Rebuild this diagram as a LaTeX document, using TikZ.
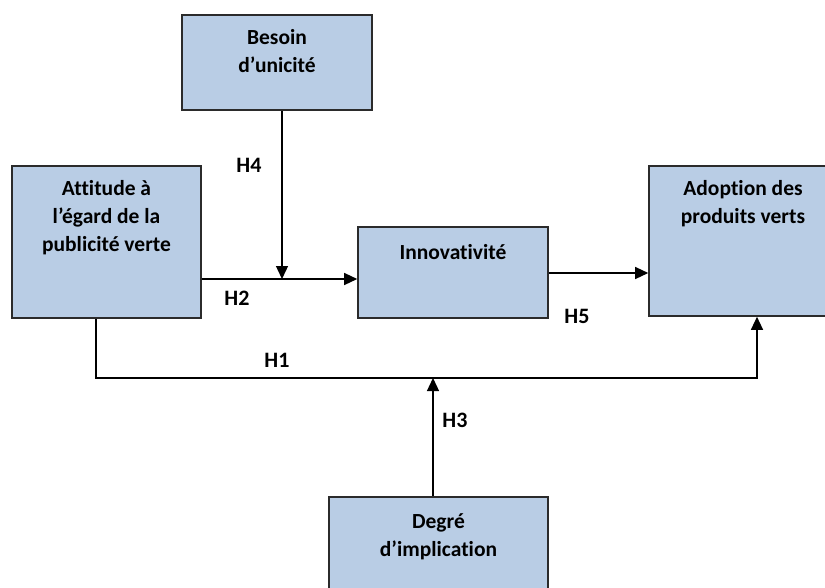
\documentclass[tikz,border=0pt]{standalone}
\usepackage{fontspec}
\setmainfont[Ligatures=NoCommon]{Carlito}
\usepackage{tikz}
\usetikzlibrary{arrows.meta}

\definecolor{boxblue}{HTML}{B9CDE5}
\definecolor{boxline}{HTML}{2B2B2B}

\tikzset{
    varbox/.style={draw=boxline, line width=1.6pt, fill=boxblue, rectangle, inner sep=0pt},
    boxtext/.style={anchor=north, align=center, font=\fontsize{21.5}{28}\selectfont\bfseries, inner sep=0pt},
    hyp/.style={font=\fontsize{22}{24}\selectfont\bfseries, inner sep=0pt},
    link/.style={line width=1.3pt, -{Triangle[length=13pt,width=12pt]}}
}

\begin{document}
\begin{tikzpicture}[x=1pt,y=-1pt]
    \useasboundingbox (0,0) rectangle (825,587);

    % variables
    \node[varbox, minimum width=190pt, minimum height=95pt,
          label={[boxtext, yshift=-15pt]north:Besoin\\d’unicité}] (besoin) at (277,62.5) {};
    \node[varbox, minimum width=189pt, minimum height=152pt,
          label={[boxtext, yshift=-15pt]north:Attitude à\\l’égard de la\\publicité verte}] (attitude) at (106.5,242) {};
    \node[varbox, minimum width=190pt, minimum height=91pt,
          label={[boxtext, yshift=-18pt]north:Innovativité}] (innov) at (453,272.5) {};
    \node[varbox, minimum width=188pt, minimum height=150pt,
          label={[boxtext, yshift=-15pt]north:Adoption des\\produits verts}] (adoption) at (743,241) {};
    \node[varbox, minimum width=219pt, minimum height=110pt,
          label={[boxtext, yshift=-17pt]north:Degré\\d’implication}] (degre) at (438.5,552) {};

    % points where the links meet
    \coordinate (join) at (282,279);
    \coordinate (h1l) at (96,378);
    \coordinate (h1r) at (757,378);
    \coordinate (h3) at (433,378);

    % links
    \draw[link] (attitude.east |- join) -- (innov.west |- join);
    \draw[link] (besoin.south -| join) -- (join);
    \draw[link] (innov.east |- 0,273) -- (adoption.west |- 0,273);
    \draw[link] (attitude.south -| h1l) -- (h1l) -- (h1r) -- (adoption.south -| h1r);
    \draw[link] (degre.north -| h3) -- (h3);

    % hypotheses
    \node[hyp] (h4lab) at (249,165) {H4};
    \node[hyp] (h2lab) at (237,298) {H2};
    \node[hyp] (h5lab) at (577,316) {H5};
    \node[hyp] (h1lab) at (277,360) {H1};
    \node[hyp] (h3lab) at (455,420) {H3};
\end{tikzpicture}
\end{document}
